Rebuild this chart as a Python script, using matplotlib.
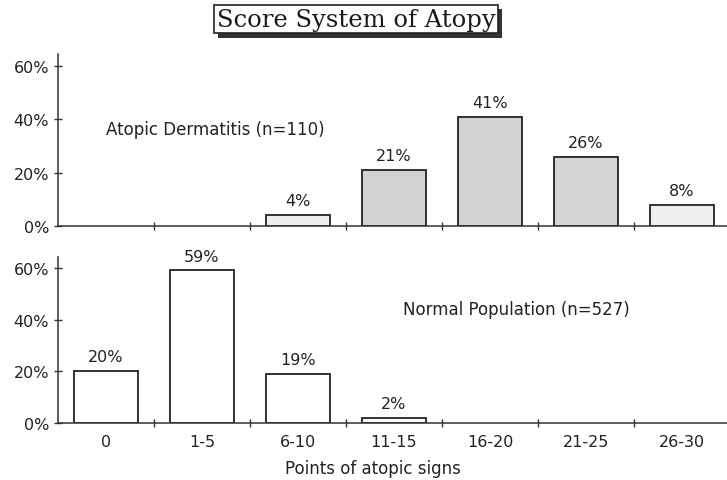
import numpy as np
import matplotlib.pyplot as plt
import matplotlib.patheffects as pe

# Score categories (points of atopic signs)
categories = ["0", "1-5", "6-10", "11-15", "16-20", "21-25", "26-30"]
# percentages
atopic = [0, 0, 4, 21, 41, 26, 8]
normal = [20, 59, 19, 2, 0, 0, 0]
y_ticks = [0, 20, 40, 60]

plt.rcParams['font.family'] = ['DejaVu Sans']
txt = '#222222'

fig = plt.figure(figsize=(7.27, 4.81), dpi=100)
ax1 = fig.add_axes([58/727, 254/481, 672/727, 172/481])
ax2 = fig.add_axes([58/727, 57/481, 672/727, 166/481])

x = np.arange(len(categories))
top_colors = ['#f2f2f2', '#f2f2f2', '#eeeeee', '#d2d2d2', '#d2d2d2', '#d6d6d6', '#f0f0f0']

# no outline for empty categories, so only the axis line shows there
ax1.bar(x, atopic, width=0.66, color=top_colors, edgecolor='#222222',
        linewidth=[1.3 if v > 0 else 0 for v in atopic])
ax2.bar(x, normal, width=0.66, color='white', edgecolor='#222222',
        linewidth=[1.3 if v > 0 else 0 for v in normal])

def label_bars(ax, vals):
    for i, v in enumerate(vals):
        if v > 0:
            ax.annotate("%d%%" % v, (x[i], v), xytext=(0, 5), textcoords='offset points',
                        ha='center', va='bottom', fontsize=11.5, color=txt)

label_bars(ax1, atopic)
label_bars(ax2, normal)

for ax, top in [(ax1, 64.5), (ax2, 64.2)]:
    ax.set_xlim(-0.5, 6.5)
    ax.set_ylim(0, top)
    ax.spines['top'].set_visible(False)
    ax.spines['right'].set_visible(False)
    ax.spines['left'].set_color('#333333')
    ax.spines['bottom'].set_color('#333333')
    ax.spines['left'].set_linewidth(1.1)
    ax.spines['bottom'].set_linewidth(1.1)
    ax.set_yticks(y_ticks)
    ax.set_yticklabels(["%d%%" % t for t in y_ticks], fontsize=11.5, color=txt)
    ax.set_xticks(np.arange(0.5, 6.5, 1.0))
    ax.set_xticks(x, minor=True)
    ax.tick_params(axis='both', which='major', direction='inout', length=6, width=1, color='#333333')
    ax.tick_params(axis='x', which='minor', length=0)
    ax.set_xticklabels([])

ax2.set_xticklabels(categories, minor=True, fontsize=11.5, color=txt)
ax2.tick_params(axis='x', which='minor', pad=8)

ax1.text(0.0, 36.4, "Atopic Dermatitis (n=110)", fontsize=12, color=txt, va='center', ha='left')
ax2.text(3.09, 44, "Normal Population (n=527)", fontsize=12, color=txt, va='center', ha='left')

fig.text(373/727, 12/481, "Points of atopic signs", ha='center', va='center', fontsize=12, color=txt)

t = fig.text(356/727, 461/481, "Score System of Atopy", ha='center', va='center',
             fontsize=17.5, family='DejaVu Serif', color='#1a1a1a',
             bbox=dict(boxstyle='square,pad=0.12', fc='white', ec='#222222', lw=1.2))
t.get_bbox_patch().set_path_effects([pe.SimplePatchShadow(offset=(3, -3), shadow_rgbFace='#333333', alpha=1.0), pe.Normal()])

plt.savefig("out.png", dpi=100)
